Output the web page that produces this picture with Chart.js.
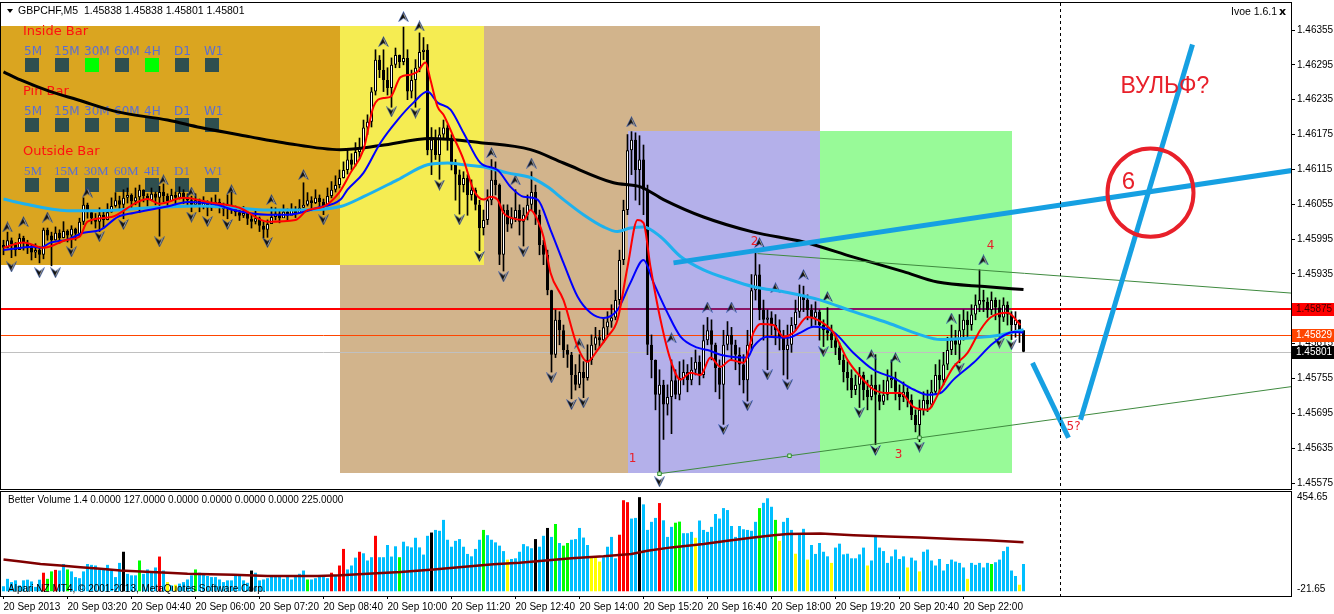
<!DOCTYPE html>
<html lang="en">
<head>
<meta charset="UTF-8">
<title>GBPCHF,M5</title>
<script src="https://cdn.jsdelivr.net/npm/chart.js@4.4.0/dist/chart.umd.min.js"></script>
<style>
  html, body { margin: 0; padding: 0; background: #fff; }
  #wrap { position: relative; width: 1334px; height: 614px; overflow: hidden; background: #fff; }
  #mainBox { position: absolute; left: 0; top: 0; }
  #volBox { position: absolute; left: 0; top: 490px; }
</style>
</head>
<body>
<div id="wrap">
  <div id="mainBox"><canvas id="mainChart" width="1334" height="490"></canvas></div>
  <div id="volBox"><canvas id="volChart" width="1334" height="124"></canvas></div>
</div>

<script>
// prices are kept in points above 1.45000 (1 point = 0.00001)
const PRICE_BASE = 1.45;

// M5 bars, 02:00 .. 23:15, one entry per bar
const firstOpen = 985;
const closes = [
  980,993,986,976,997,988,981,972,976,968,1011,1001,993,1006,997,1009,
  1001,1013,1004,1025,1054,1041,1031,1025,1037,1028,1041,1052,1062,1054,1066,1071,
  1060,1067,1080,1069,1062,1073,1066,1076,1069,1060,1071,1066,1075,1067,1062,1054,
  1062,1052,1057,1049,1054,1059,1052,1047,1054,1050,1041,1035,1040,1030,1025,1031,
  1018,1011,1021,1033,1039,1031,1042,1035,1045,1040,1049,1054,1062,1057,1066,1059,
  1052,1069,1080,1088,1100,1114,1132,1123,1145,1152,1187,1197,1249,1304,1286,1269,
  1255,1295,1312,1300,1307,1249,1269,1290,1317,1321,1148,1166,1140,1175,1187,1166,
  1123,1106,1088,1100,1071,1080,1054,1014,1028,1062,1097,1088,968,1045,1020,1031,
  1045,1025,1037,1054,1076,1037,985,968,907,796,856,838,804,796,761,744,
  766,756,787,813,826,821,843,853,860,890,959,1045,1148,1166,1114,1132,
  1080,813,787,727,744,710,723,752,727,756,766,752,770,784,761,821,
  838,813,773,744,813,830,813,796,779,752,813,907,934,873,856,860,
  847,838,826,804,813,847,870,899,890,873,860,870,847,838,833,821,
  808,787,766,756,735,744,761,735,723,744,727,715,727,752,756,732,
  723,732,718,692,675,701,718,710,732,761,752,779,804,821,813,838,
  856,847,865,882,890,887,873,890,877,860,882,865,847,856,838,801
];
const highs = [
  993,1007,997,989,1004,1000,993,985,987,982,1014,1014,1007,1016,1011,1025,
  1011,1018,1014,1031,1066,1057,1044,1039,1049,1042,1056,1066,1075,1069,1080,1083,
  1073,1083,1088,1080,1073,1083,1076,1086,1090,1073,1081,1076,1085,1080,1073,1069,
  1073,1064,1068,1061,1066,1071,1064,1057,1071,1076,1052,1045,1051,1042,1037,1044,
  1033,1025,1028,1050,1049,1044,1054,1047,1056,1051,1063,1092,1075,1068,1080,1071,
  1064,1083,1094,1104,1114,1128,1149,1142,1161,1169,1200,1209,1256,1321,1311,1321,
  1290,1307,1324,1312,1360,1321,1286,1304,1350,1342,1330,1187,1183,1187,1200,1192,
  1175,1132,1114,1111,1106,1097,1083,1062,1045,1080,1132,1128,1090,1054,1054,1049,
  1080,1054,1049,1071,1111,1088,1045,993,976,907,873,870,847,813,800,779,
  796,784,813,830,843,838,860,870,882,907,976,1062,1175,1180,1178,1173,
  1157,1088,830,787,770,752,744,787,770,784,787,779,791,804,794,847,
  860,856,816,787,838,853,843,821,808,796,838,934,971,951,890,873,
  870,865,856,838,847,860,890,916,914,899,882,887,873,856,877,847,
  830,816,796,784,770,761,774,766,752,761,796,744,752,770,787,766,
  744,749,739,727,701,718,732,735,752,779,787,800,826,847,838,865,
  873,870,882,899,942,907,894,904,894,890,894,887,870,870,856,838
];
const lows = [
  968,980,963,966,983,976,970,959,963,954,961,993,949,993,988,997,
  990,980,993,1000,1020,1031,1021,1014,1008,1014,1028,1041,1050,1045,1030,1057,
  1049,1054,1041,1059,1052,1061,1054,1000,1059,1050,1061,1052,1064,1056,1052,1042,
  1052,1042,1047,1035,1044,1049,1040,1035,1030,1039,1035,1027,1032,1020,1014,1021,
  1008,997,998,1025,1028,1023,1033,1027,1037,1032,1042,1049,1052,1047,1056,1050,
  1037,1052,1066,1076,1083,1100,1107,1114,1121,1135,1148,1175,1188,1243,1273,1249,
  1243,1222,1290,1290,1295,1235,1238,1222,1283,1304,1140,1106,1132,1098,1166,1148,
  1114,1062,1038,1076,1036,1062,1045,975,1002,1020,1054,1071,951,940,1008,1014,
  1025,1002,983,1028,1045,1020,968,951,899,766,791,813,791,774,720,735,
  739,722,752,779,804,808,817,830,843,856,882,951,1037,1106,1062,1054,
  1037,796,756,701,589,650,692,660,720,718,744,732,744,761,744,756,
  813,787,732,720,676,804,787,770,744,730,716,804,890,856,821,770,
  830,813,804,761,754,800,838,860,870,856,843,847,821,810,821,808,
  796,779,749,735,722,727,705,718,701,718,641,701,710,718,739,718,
  701,715,706,684,663,646,692,698,706,727,732,744,770,796,796,782,
  821,826,838,856,870,870,860,865,856,826,853,847,822,826,817,801
];

// moving averages: [bar, points]
const maRed = [[0,980],[5,989],[10,980],[16,994],[19,999],[21,1025],[27,1033],[33,1057],[36,1064],[39,1056],[45,1066],[51,1059],[59,1049],[66,1025],[73,1028],[76,1045],[80,1051],[84,1076],[86.75,1109],[90,1149],[92.5,1223],[95,1238],[96.75,1240],[99.25,1274],[101.75,1278],[103.5,1283],[105.5,1299],[106.75,1269],[108.5,1223],[110,1209],[112.5,1171],[115,1132],[117.5,1080],[120,1063],[121.75,1068],[123.5,1063],[125,1040],[126.75,1032],[130,1028],[131.75,1045],[133.5,1028],[135,999],[136.75,937],[140,890],[143.5,810],[146,784],[148.5,804],[151,827],[153.5,856],[156,947],[158.5,1028],[160,1023],[161.75,947],[164.25,856],[166.75,787],[169.25,753],[171.75,765],[174.25,761],[176.75,791],[179.25,775],[181.75,787],[185,782],[187.5,834],[189.25,849],[192.5,847],[195,827],[197.5,834],[201,861],[203.5,856],[207.5,834],[211,787],[214.25,758],[217.5,736],[221,730],[224.25,730],[227.5,706],[231,701],[234.25,736],[237.5,775],[241,799],[244.25,839],[246.75,860],[251,868],[254.25,847]];
const maBlue = [[0,976],[7.5,982],[9.25,980],[11.75,989],[16,994],[20,1006],[24.25,1011],[28.5,1033],[32.5,1040],[41,1051],[46,1059],[53.5,1054],[57.5,1045],[66,1037],[71,1037],[78.5,1049],[84.25,1063],[86,1080],[90,1109],[94.25,1161],[98.5,1200],[102.5,1230],[106,1249],[108.5,1230],[111.75,1218],[115,1178],[119.25,1126],[123.5,1114],[126.75,1085],[130,1068],[133.5,1063],[136.75,1011],[140,954],[143.5,896],[146.75,868],[150,859],[153.5,873],[156.75,920],[160,959],[162.5,920],[166,868],[169.25,827],[173.5,808],[176,804],[179.25,796],[182.5,792],[186,791],[187.5,810],[191,827],[196,825],[199.25,834],[202.5,844],[207.5,835],[212.5,799],[217.5,770],[222.5,756],[227.5,736],[231,727],[234.25,730],[237.5,753],[242.5,782],[247.5,816],[252.5,835],[255,834]];
const maCyan = [[0,1064],[4.25,1057],[16,1044],[24.25,1044],[36.75,1049],[49.25,1052],[57.5,1049],[66,1045],[74.25,1045],[84.25,1051],[90,1068],[98.5,1097],[106,1123],[111,1126],[115,1123],[121,1118],[126,1109],[131.75,1101],[136,1085],[140,1063],[145,1037],[150,1016],[153.5,1008],[156.75,1014],[160,1016],[164.25,999],[169.25,965],[175,942],[181.75,925],[187.5,913],[196,903],[204.25,890],[212.5,870],[221,851],[229.25,830],[234.25,822],[242.5,825],[249.25,830],[255,839]];
const maBlack = [[0,1283],[4.25,1269],[11.75,1249],[18.5,1235],[28.5,1214],[41,1200],[49.25,1187],[61.75,1171],[70,1161],[84.25,1149],[94.25,1156],[106.75,1168],[119.25,1161],[131.75,1149],[140,1126],[152.5,1092],[159.25,1085],[165,1063],[175,1033],[187.5,1007],[200,990],[212.5,964],[225,939],[233.5,921],[246,913],[255,908]];

// fractal arrows: [bar, points]
const fractalUp = [[1,1016],[5,1025],[11,1033],[21,1076],[40,1097],[47,1076],[57,1080],[67,1063],[75,1106],[95,1335],[100,1378],[104,1362],[122,1144],[128,1097],[132,1126],[144,816],[157,1197],[167,825],[176,878],[182,878],[189,989],[193,911],[200,934],[206,896],[217,796],[223,791],[237,859],[245,959]];
const fractalDown = [[2,947],[9,937],[13,937],[17,973],[24,999],[30,1020],[39,990],[47,1033],[51,1025],[56,1020],[66,989],[80,1028],[97,1214],[103,1212],[109,1088],[114,1028],[119,965],[125,930],[130,973],[137,756],[142,710],[145,713],[164,577],[180,667],[186,708],[191,761],[196,744],[205,801],[214,696],[218,631],[229,637],[239,773],[249,816],[252,813]];

// drawn objects: [bar, points]
const trendBlue = [[167.5,954],[322,1113]];
const waveDown = [[257.25,782],[266.25,653]];
const waveUp = [[269.25,684],[297.25,1330]];
const channelTop = [[188.5,970],[322,902]];
const channelBottom = [[164,591],[322,741]];
const channelAnchors = [[164,591],[196.5,622],[229,653]];
const circleCenter = [286.75,1075];
const waveLabels = ['1','2','3','4','5?'];
const waveLabelBars = [157.25,187.75,223.75,246.75,267.5];
const waveLabelPts = [617,990,624,983,672];

// shaded zones
const zoneX0 = [84,-0.625,84,156,204];
const zoneX1 = [204,84,120,204,252];
const zoneTop = [1362,1362,1362,1181,1181];
const zoneBottom = [593,951,951,593,593];

// horizontal levels
const levelRed = 1.45875, levelOrange = 1.45829, bidPrice = 1.45801;
const priceTicks = [1.45575,1.45635,1.45695,1.45755,1.45815,1.45875,1.45935,1.45995,1.46055,1.46115,1.46175,1.46235,1.46295,1.46355];

// time axis
const timeTickBars = [0,16,32,48,64,80,96,112,128,144,160,176,192,208,224,240];
const timeTickLabels = ['20 Sep 2013','20 Sep 03:20','20 Sep 04:40','20 Sep 06:00','20 Sep 07:20','20 Sep 08:40','20 Sep 10:00','20 Sep 11:20','20 Sep 12:40','20 Sep 14:00','20 Sep 15:20','20 Sep 16:40','20 Sep 18:00','20 Sep 19:20','20 Sep 20:40','20 Sep 22:00'];

// Better Volume
const volumes = [
  23,57,42,50,27,50,53,45,20,53,85,57,91,98,95,125,
  100,91,65,60,91,125,121,118,100,100,121,95,65,130,181,80,
  73,73,141,80,100,85,109,159,95,42,27,30,35,42,54,73,
  100,85,80,70,65,65,54,42,50,50,73,70,50,39,95,85,
  50,54,60,70,73,70,57,73,54,70,80,95,54,54,60,70,
  70,60,85,70,118,194,100,118,154,181,174,141,156,254,156,156,
  212,159,206,156,227,206,201,245,201,168,254,269,281,277,327,236,
  204,231,239,204,171,160,194,236,281,257,236,224,209,184,145,148,
  151,181,216,206,197,239,204,254,290,249,308,221,209,221,236,239,
  290,246,212,160,160,136,156,204,249,151,259,417,408,333,336,431,
  398,281,318,336,404,325,249,295,314,319,266,266,272,245,324,281,
  272,295,354,333,381,372,299,249,299,284,281,277,318,381,405,426,
  387,327,231,318,336,281,172,266,286,145,212,171,221,181,160,130,
  200,218,169,172,151,151,169,200,118,141,251,200,184,130,160,191,
  148,160,109,154,141,91,181,191,141,118,148,95,125,145,136,130,
  109,57,130,121,130,109,130,125,133,145,184,204,95,70,30,125
];
const volRedBars = [10,13,39,82,84,85,89,93,154,155,156,164];
const volGreenBars = [11,12,16,34,48,76,99,120,138,140,141,168,169,189,193,247];
const volYellowBars = [41,43,126,147,148,149,173,194,198,201,207,216,226,229,241,254];
const volBlackBars = [30,62,107,133,136,159];
const volAverage = [[0,145],[4.25,136],[9.25,125],[14.25,118],[19.25,110],[24.25,103],[29.25,95],[34.25,91],[41,85],[46,80],[57.5,76],[66,70],[78.5,70],[84.25,73],[91,80],[99.25,88],[107.5,100],[116,113],[122.5,124],[129,131],[142,151],[150,160],[157,171],[161,186],[167,201],[175,216],[181,231],[187.5,246],[192.5,257],[196,262],[204.25,265],[212.5,257],[221,251],[229,246],[237.5,239],[246,234],[255,224]];

// pattern panel
const patternNames = ['Inside Bar','Pin Bar','Outside Bar'];
const timeframes = ['5M','15M','30M','60M','4H','D1','W1'];
const patternFlags = [[0,0,1,0,1,0,0],[0,0,0,0,0,0,0],[0,0,0,0,0,0,0]];

const FUTURE_BAR = 264;   // dashed separator

// ---------------------------------------------------------------
const P = v => PRICE_BASE + v / 100000;
const pts = arr => arr.map(([b, v]) => ({x: b, y: P(v)}));
const opens = closes.map((c, i) => i ? closes[i - 1] : firstOpen);

const UI_FONT = "'Liberation Sans', Arial, sans-serif";
Chart.defaults.font.family = UI_FONT;
Chart.defaults.font.size = 10;
Chart.defaults.color = '#000';

function makeArrow(up) {
  const c = document.createElement('canvas');
  c.width = 11; c.height = 11;
  const g = c.getContext('2d');
  if (!up) { g.translate(0, 11); g.scale(1, -1); }
  g.beginPath();
  g.moveTo(5.5, 0.5); g.lineTo(10.5, 10.5); g.lineTo(5.5, 7); g.lineTo(0.5, 10.5); g.closePath();
  g.fillStyle = '#15130c'; g.fill();
  g.strokeStyle = 'rgba(40,90,200,0.7)'; g.lineWidth = 0.7; g.stroke();
  g.beginPath(); g.moveTo(5.5, 2.5); g.lineTo(8.5, 9);
  g.strokeStyle = 'rgba(255,255,255,0.8)'; g.lineWidth = 0.8; g.stroke();
  return c;
}
const arrowUp = makeArrow(true), arrowDown = makeArrow(false);

const xRange = {type: 'linear', min: -0.625, max: 321.875, offset: false};

function drawFrame(chart) {
  const {ctx, chartArea: a} = chart;
  ctx.save();
  ctx.strokeStyle = '#000'; ctx.lineWidth = 1;
  ctx.strokeRect(a.left - 0.5, a.top - 0.5, a.right - a.left + 1, a.bottom - a.top + 1);
  ctx.restore();
}
function drawDashed(chart) {
  const {ctx, chartArea: a, scales: {x}} = chart;
  const px = Math.round(x.getPixelForValue(FUTURE_BAR)) + 0.5;
  ctx.save();
  ctx.strokeStyle = '#000'; ctx.lineWidth = 1; ctx.setLineDash([3, 3]);
  ctx.beginPath(); ctx.moveTo(px, a.top); ctx.lineTo(px, a.bottom); ctx.stroke();
  ctx.restore();
}

const mainDecor = {
  id: 'mainDecor',
  beforeDatasetsDraw(chart) {
    const {ctx, chartArea: a, scales: {x, y}} = chart;
    ctx.save();
    ctx.beginPath(); ctx.rect(a.left, a.top, a.right - a.left, a.bottom - a.top); ctx.clip();
    const zoneColors = ['#d2b48c', '#daa520', '#f5ec52', '#b4b0ea', '#98fa98'];
    zoneX0.forEach((x0, k) => {
      const l = Math.round(x.getPixelForValue(x0)), r = Math.round(x.getPixelForValue(zoneX1[k]));
      const t = Math.round(y.getPixelForValue(P(zoneTop[k]))), b = Math.round(y.getPixelForValue(P(zoneBottom[k])));
      ctx.fillStyle = zoneColors[k];
      ctx.fillRect(l, t, r - l, b - t);
    });
    // levels
    const hline = (v, color, w, from, to) => {
      const py = Math.round(y.getPixelForValue(v)) + (w % 2 ? 0.5 : 0);
      ctx.strokeStyle = color; ctx.lineWidth = w;
      ctx.beginPath(); ctx.moveTo(from, py); ctx.lineTo(to, py); ctx.stroke();
    };
    hline(bidPrice, '#c0c0c0', 1, a.left, a.right);
    hline(levelOrange, '#ff4500', 1, a.left, a.right);
    hline(levelRed, '#ff0000', 2, a.left, a.right);
    hline(levelRed, '#8a1464', 2, x.getPixelForValue(zoneX0[3]), x.getPixelForValue(zoneX1[4]));

    // pattern panel
    ctx.textBaseline = 'middle';
    patternNames.forEach((name, r) => {
      const top = 32 + r * 60;
      ctx.font = "13px 'DejaVu Sans'";
      ctx.fillStyle = '#ff1010';
      ctx.fillText(name, 23, top);
      ctx.font = r === 2 ? "13px 'Liberation Serif'" : "12px 'DejaVu Sans'";
      timeframes.forEach((tf, c) => {
        ctx.fillStyle = '#5a6ed2';
        ctx.fillText(tf, 24 + c * 30, top + 20);
        ctx.fillStyle = patternFlags[r][c] ? '#00ff00' : '#2f4f4f';
        ctx.fillRect(25 + c * 30, top + 26, 14, 14);
      });
    });
    ctx.restore();
  },
  afterDatasetsDraw(chart) {
    const {ctx, chartArea: a, scales: {x, y}} = chart;
    ctx.save();
    ctx.beginPath(); ctx.rect(a.left, a.top, a.right - a.left, a.bottom - a.top); ctx.clip();
    // circle around point 6
    const cx = x.getPixelForValue(circleCenter[0]), cy = y.getPixelForValue(P(circleCenter[1]));
    const rx = x.getPixelForValue(circleCenter[0] + 10.75) - cx;
    const ry = cy - y.getPixelForValue(P(circleCenter[1] + 76));
    ctx.strokeStyle = '#e8202a'; ctx.lineWidth = 4;
    ctx.beginPath(); ctx.ellipse(cx, cy, rx, ry, 0, 0, Math.PI * 2); ctx.stroke();

    ctx.fillStyle = '#e8202a';
    ctx.textBaseline = 'middle';
    ctx.font = "24px 'Liberation Sans'";
    ctx.textAlign = 'center';
    ctx.fillText('6', x.getPixelForValue(281.25), y.getPixelForValue(P(1092)));
    ctx.textAlign = 'left';
    ctx.font = "23px 'Liberation Sans'";
    ctx.fillText('ВУЛЬФ?', x.getPixelForValue(279.25), y.getPixelForValue(P(1257)));
    ctx.font = "12px 'DejaVu Sans'";
    ctx.textAlign = 'center';
    waveLabels.forEach((t, k) => {
      ctx.fillText(t, x.getPixelForValue(waveLabelBars[k]), y.getPixelForValue(P(waveLabelPts[k])));
    });
    ctx.restore();
    drawDashed(chart);
  },
  afterDraw(chart) {
    const {ctx, scales: {y}} = chart;
    drawFrame(chart);
    ctx.save();
    // header
    ctx.fillStyle = '#000';
    ctx.beginPath(); ctx.moveTo(7, 9); ctx.lineTo(13, 9); ctx.lineTo(10, 13); ctx.closePath(); ctx.fill();
    ctx.font = '10.5px ' + UI_FONT;
    ctx.textBaseline = 'middle';
    ctx.fillText('GBPCHF,M5  1.45838 1.45838 1.45801 1.45801', 18, 11);
    ctx.fillText('Ivoe 1.6.1', 1231, 12);
    ctx.font = "bold 11px 'DejaVu Sans'";
    ctx.fillText('x', 1279, 12);
    // price boxes on the axis
    const box = (v, bg, fg) => {
      const py = Math.round(y.getPixelForValue(v));
      ctx.fillStyle = bg; ctx.fillRect(1292, py - 6, 42, 13);
      ctx.fillStyle = fg; ctx.font = '10px ' + UI_FONT;
      ctx.fillText(v.toFixed(5), 1296, py + 0.5);
    };
    box(levelRed, '#ff0000', '#400000');
    box(levelOrange, '#ff4500', '#ffffff');
    box(bidPrice, '#000000', '#ffffff');
    ctx.restore();
  }
};

const mainChart = new Chart(document.getElementById('mainChart'), {
  type: 'bar',
  data: {
    datasets: [
      {label: 'wick', data: closes.map((c, i) => ({x: i, y: [P(lows[i]), P(highs[i])]})),
       backgroundColor: '#000', barThickness: 1, grouped: false, order: 30},
      {label: 'body', data: closes.map((c, i) => ({x: i, y: [P(opens[i]), P(c)]})),
       backgroundColor: closes.map((c, i) => c >= opens[i] ? '#ffffff' : '#000000'),
       borderColor: '#000', borderWidth: 1, borderSkipped: false, inflateAmount: 0,
       barThickness: 3, minBarLength: 1, grouped: false, order: 29},
      {type: 'line', label: 'fractal up', data: pts(fractalUp), showLine: false,
       pointStyle: arrowUp, pointRadius: 5, order: 28},
      {type: 'line', label: 'fractal down', data: pts(fractalDown), showLine: false,
       pointStyle: arrowDown, pointRadius: 5, order: 28},
      {type: 'line', label: 'ma cyan', data: pts(maCyan), borderColor: '#1eb1ee', borderWidth: 3,
       pointRadius: 0, cubicInterpolationMode: 'monotone', order: 20},
      {type: 'line', label: 'ma black', data: pts(maBlack), borderColor: '#000', borderWidth: 3,
       pointRadius: 0, cubicInterpolationMode: 'monotone', order: 19},
      {type: 'line', label: 'ma blue', data: pts(maBlue), borderColor: '#0000ff', borderWidth: 2,
       pointRadius: 0, cubicInterpolationMode: 'monotone', order: 18},
      {type: 'line', label: 'ma red', data: pts(maRed), borderColor: '#ff0000', borderWidth: 2,
       pointRadius: 0, cubicInterpolationMode: 'monotone', order: 17},
      {type: 'line', label: 'channel top', data: pts(channelTop), borderColor: '#3f8a3f', borderWidth: 1,
       pointRadius: 0, order: 12},
      {type: 'line', label: 'channel bottom', data: pts(channelBottom), borderColor: '#3f8a3f', borderWidth: 1,
       pointRadius: 0, order: 12},
      {type: 'line', label: 'anchors', data: pts(channelAnchors), showLine: false, pointStyle: 'rect',
       pointRadius: 2.5, backgroundColor: '#c8f5c8', borderColor: '#2e8b2e', borderWidth: 1, order: 11},
      {type: 'line', label: 'trend', data: pts(trendBlue), borderColor: '#16a0e2', borderWidth: 5,
       pointRadius: 0, order: 10},
      {type: 'line', label: 'wave 4-5', data: pts(waveDown), borderColor: '#16a0e2', borderWidth: 5,
       pointRadius: 0, order: 10},
      {type: 'line', label: 'wave 5-6', data: pts(waveUp), borderColor: '#16a0e2', borderWidth: 5,
       pointRadius: 0, order: 10}
    ]
  },
  options: {
    responsive: false,
    animation: false,
    devicePixelRatio: 1,
    events: [],
    layout: {autoPadding: false, padding: {left: 1, top: 3, right: 0, bottom: 1}},
    plugins: {legend: {display: false}, tooltip: {enabled: false}},
    scales: {
      x: Object.assign({display: false, grid: {offset: false}}, xRange),
      y: {
        position: 'right',
        min: 1.455647, max: 1.464015,
        afterBuildTicks: s => { s.ticks = priceTicks.map(v => ({value: v})); },
        afterFit: s => { s.width = 43; s.paddingTop = 0; s.paddingBottom = 0; },
        ticks: {callback: v => v.toFixed(5), padding: 2, autoSkip: false, color: '#000'},
        grid: {drawOnChartArea: false, tickLength: 4, color: '#000'},
        border: {display: false}
      }
    }
  },
  plugins: [mainDecor]
});

// ---------------- volume panel ----------------
const volColor = i => volRedBars.includes(i) ? '#ff0000'
  : volGreenBars.includes(i) ? '#00ff00'
  : volYellowBars.includes(i) ? '#ffff00'
  : volBlackBars.includes(i) ? '#000000' : '#00bfff';

const volDecor = {
  id: 'volDecor',
  afterDatasetsDraw(chart) {
    const {ctx} = chart;
    ctx.save();
    ctx.fillStyle = '#000';
    ctx.font = '10px ' + UI_FONT;
    ctx.textBaseline = 'middle';
    ctx.fillText('Alpari NZ MT4, \u00a9 2001-2013, MetaQuotes Software Corp.', 8, 99);
    ctx.restore();
    drawDashed(chart);
  },
  afterDraw(chart) {
    const {ctx, scales: {y}} = chart;
    drawFrame(chart);
    ctx.save();
    ctx.fillStyle = '#000';
    ctx.font = '10px ' + UI_FONT;
    ctx.textBaseline = 'middle';
    ctx.fillText('Better Volume 1.4 0.0000 127.0000 0.0000 0.0000 0.0000 0.0000 225.0000', 8, 10);
    ctx.fillText('454.65', 1297, y.getPixelForValue(454.65) + 5);
    ctx.fillText('-21.65', 1297, y.getPixelForValue(-21.65) - 7);
    ctx.restore();
  }
};

const volChart = new Chart(document.getElementById('volChart'), {
  type: 'bar',
  data: {
    datasets: [
      {type: 'line', label: 'average', data: volAverage.map(([b, v]) => ({x: b, y: v})),
       borderColor: '#800000', borderWidth: 2.5, pointRadius: 0, order: 1},
      {label: 'volume', data: volumes.map((v, i) => ({x: i, y: v})),
       backgroundColor: volumes.map((v, i) => volColor(i)), barThickness: 3, inflateAmount: 0,
       grouped: false, order: 2}
    ]
  },
  options: {
    responsive: false,
    animation: false,
    devicePixelRatio: 1,
    events: [],
    layout: {autoPadding: false, padding: {left: 1, top: 2, right: 0, bottom: 0}},
    plugins: {legend: {display: false}, tooltip: {enabled: false}},
    scales: {
      x: Object.assign({
        afterBuildTicks: s => { s.ticks = timeTickBars.map(v => ({value: v})); },
        afterFit: s => { s.height = 18; s.paddingLeft = 0; s.paddingRight = 0; },
        ticks: {callback: (v, i) => timeTickLabels[i], align: 'start', autoSkip: false,
                minRotation: 0, maxRotation: 0, padding: 2, color: '#000'},
        grid: {drawOnChartArea: false, tickLength: 3, color: '#000', offset: false},
        border: {display: false}
      }, xRange),
      y: {
        position: 'right', min: -21.65, max: 454.65,
        afterFit: s => { s.width = 43; s.paddingTop = 0; s.paddingBottom = 0; },
        ticks: {display: false},
        grid: {display: false},
        border: {display: false}
      }
    }
  },
  plugins: [volDecor]
});
</script>
</body>
</html>
